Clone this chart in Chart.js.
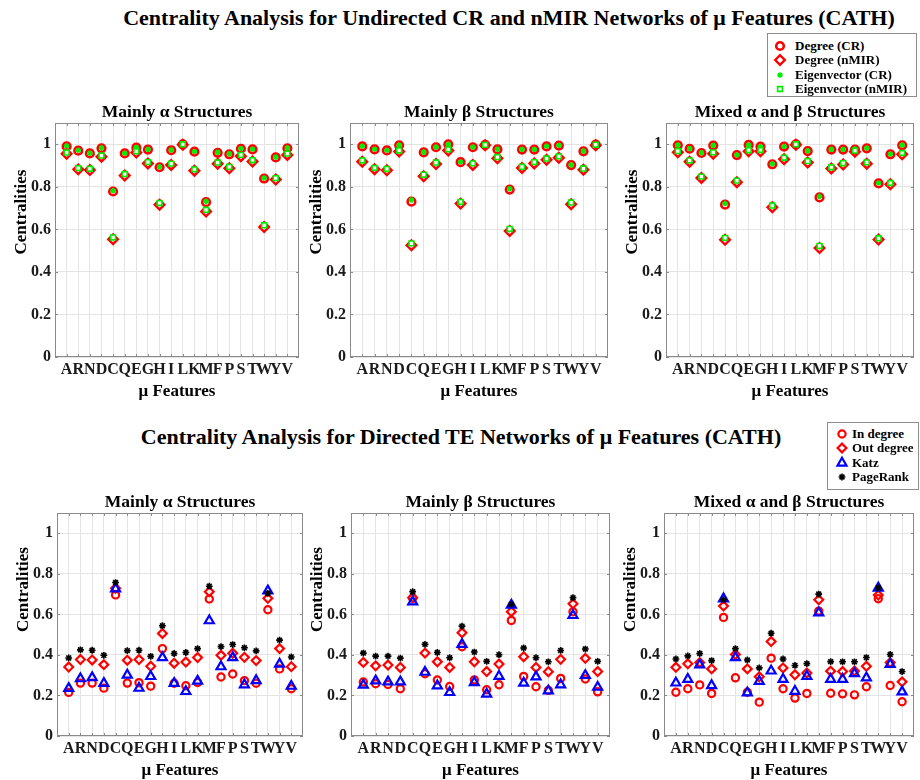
<!DOCTYPE html>
<html>
<head>
<meta charset="utf-8">
<title>Centrality Analysis (CATH)</title>
<script src="https://cdn.jsdelivr.net/npm/chart.js@4.4.1/dist/chart.umd.min.js"></script>
<style>
  html, body { margin: 0; padding: 0; background: #fff; }
  body { position: relative; width: 920px; height: 780px; overflow: hidden;
         font-family: "Liberation Serif", "Times New Roman", serif; color: #000; }
  canvas { position: absolute; }
  .fig-title { position: absolute; font-size: 22px; font-weight: bold; white-space: nowrap;
               line-height: 24px; transform: translateX(-50%); }
  .legend { position: absolute; border: 1px solid #8c8c8c; background: #fff; box-sizing: border-box;
            font-size: 13px; font-weight: bold; }
  .legend div { position: absolute; white-space: nowrap; line-height: 14px; }
</style>
</head>
<body>
<div class="fig-title" style="left:509px; top:6px;">Centrality Analysis for Undirected CR and nMIR Networks of μ Features (CATH)</div>
<div class="fig-title" style="left:461px; top:425px;">Centrality Analysis for Directed TE Networks of μ Features (CATH)</div>
<div class="legend" id="legend-top" style="left:767px; top:33px; width:150px; height:64px;"></div>
<div class="legend" id="legend-bottom" style="left:827px; top:422px; width:92px; height:68px;"></div>

<script>
// categories and ticks
const features = ['A','R','N','D','C','Q','E','G','H','I','L','K','M','F','P','S','T','W','Y','V'];
const yTickValues = [0, 0.2, 0.4, 0.6, 0.8, 1];
const panelTitles = ['Mainly α Structures', 'Mainly β Structures', 'Mixed α and β Structures'];
const undirectedNames = ['Degree (CR)', 'Degree (nMIR)', 'Eigenvector (CR)', 'Eigenvector (nMIR)'];
const directedNames = ['In degree', 'Out degree', 'Katz', 'PageRank'];

// undirected CR / nMIR networks
const alphaDegCR    = [0.990,0.970,0.957,0.981,0.778,0.957,0.984,0.975,0.892,0.972,1.000,0.965,0.728,0.960,0.953,0.979,0.976,0.839,0.938,0.981];
const alphaDegNMIR  = [0.955,0.882,0.879,0.941,0.553,0.853,0.961,0.910,0.716,0.903,0.998,0.876,0.684,0.908,0.887,0.944,0.919,0.611,0.834,0.950];
const alphaEigCR    = [0.992,0.972,0.958,0.983,0.782,0.958,0.986,0.976,0.894,0.973,1.000,0.966,0.732,0.962,0.955,0.980,0.977,0.842,0.940,0.983];
const alphaEigNMIR  = [0.961,0.888,0.885,0.947,0.562,0.860,0.967,0.916,0.724,0.909,1.000,0.882,0.692,0.914,0.894,0.950,0.925,0.619,0.841,0.956];

const betaDegCR     = [0.990,0.976,0.971,0.995,0.730,0.962,0.986,1.000,0.916,0.986,0.997,0.976,0.787,0.975,0.975,0.990,0.994,0.902,0.967,0.998];
const betaDegNMIR   = [0.918,0.883,0.878,0.966,0.525,0.850,0.907,0.971,0.721,0.903,0.995,0.934,0.592,0.889,0.910,0.927,0.937,0.718,0.880,0.995];
const betaEigCR     = [0.991,0.977,0.972,0.996,0.738,0.963,0.987,1.000,0.917,0.987,0.998,0.977,0.791,0.976,0.976,0.991,0.995,0.903,0.968,0.999];
const betaEigNMIR   = [0.924,0.889,0.884,0.971,0.534,0.857,0.914,0.976,0.729,0.910,0.997,0.940,0.602,0.894,0.916,0.933,0.943,0.726,0.886,0.998];

const mixedDegCR    = [0.995,0.979,0.959,0.994,0.716,0.949,0.997,0.989,0.906,0.989,1.000,0.968,0.750,0.975,0.975,0.975,0.981,0.816,0.953,0.995];
const mixedDegNMIR  = [0.962,0.918,0.842,0.956,0.551,0.822,0.967,0.967,0.704,0.930,0.998,0.914,0.512,0.886,0.905,0.965,0.909,0.552,0.812,0.953];
const mixedEigCR    = [0.996,0.980,0.960,0.995,0.722,0.950,0.997,0.990,0.908,0.990,1.000,0.969,0.755,0.976,0.976,0.978,0.982,0.818,0.954,0.996];
const mixedEigNMIR  = [0.968,0.924,0.848,0.962,0.560,0.829,0.972,0.973,0.712,0.937,1.000,0.921,0.522,0.892,0.911,0.970,0.915,0.558,0.818,0.959];

// directed TE networks
const alphaIn       = [0.215,0.261,0.261,0.236,0.696,0.261,0.263,0.246,0.431,0.260,0.248,0.264,0.676,0.291,0.306,0.273,0.260,0.623,0.331,0.233];
const alphaOut      = [0.340,0.377,0.375,0.352,0.729,0.374,0.377,0.344,0.506,0.359,0.365,0.387,0.712,0.398,0.408,0.388,0.372,0.679,0.431,0.342];
const alphaKatz     = [0.235,0.283,0.288,0.260,0.726,0.301,0.236,0.294,0.387,0.260,0.220,0.271,0.569,0.342,0.387,0.253,0.274,0.716,0.355,0.246];
const alphaPageRank = [0.385,0.425,0.423,0.398,0.757,0.421,0.423,0.393,0.544,0.407,0.412,0.431,0.739,0.441,0.451,0.435,0.420,0.704,0.473,0.390];

const betaIn        = [0.266,0.258,0.254,0.233,0.680,0.307,0.276,0.244,0.440,0.277,0.228,0.253,0.570,0.294,0.243,0.225,0.284,0.613,0.281,0.218];
const betaOut       = [0.363,0.346,0.350,0.338,0.682,0.409,0.366,0.338,0.509,0.366,0.318,0.355,0.613,0.391,0.338,0.317,0.378,0.652,0.383,0.318];
const betaKatz      = [0.251,0.272,0.267,0.267,0.662,0.315,0.248,0.215,0.452,0.264,0.207,0.295,0.646,0.261,0.292,0.223,0.253,0.595,0.299,0.241];
const betaPageRank  = [0.409,0.394,0.394,0.384,0.712,0.452,0.412,0.386,0.542,0.414,0.368,0.401,0.649,0.434,0.386,0.366,0.422,0.682,0.429,0.368];

const mixedIn       = [0.216,0.233,0.252,0.210,0.585,0.287,0.216,0.167,0.384,0.233,0.187,0.210,0.616,0.211,0.208,0.203,0.243,0.677,0.249,0.169];
const mixedOut      = [0.339,0.356,0.362,0.331,0.641,0.402,0.331,0.292,0.466,0.336,0.302,0.311,0.672,0.320,0.318,0.321,0.344,0.695,0.362,0.267];
const mixedKatz     = [0.262,0.280,0.351,0.249,0.677,0.387,0.213,0.270,0.321,0.280,0.221,0.295,0.608,0.280,0.280,0.308,0.287,0.730,0.354,0.218];
const mixedPageRank = [0.380,0.395,0.407,0.372,0.672,0.431,0.375,0.336,0.507,0.380,0.348,0.357,0.700,0.367,0.366,0.366,0.387,0.731,0.402,0.318];

// marker styles (order: lower = drawn on top)
const RED = '#ff0000', GREEN = '#00ee00', BLUE = '#0000ff', BLACK = '#000000';
const NONE = 'rgba(0,0,0,0)';
const undirectedStyles = [
    { pointStyle: 'circle',  radius: 3.8, borderWidth: 2.6, color: RED,   fill: NONE,   order: 4 },
    { pointStyle: 'rectRot', radius: 4.8, borderWidth: 2.4, color: RED,   fill: NONE,   order: 3 },
    { pointStyle: 'star',    radius: 2.6, borderWidth: 2.6, color: GREEN, fill: GREEN,  order: 2 },
    { pointStyle: 'rect',    radius: 3.4, borderWidth: 1.6, color: GREEN, fill: '#fff', order: 1 }
];
const directedStyles = [
    { pointStyle: 'circle',   radius: 3.6, borderWidth: 2.2, color: RED,   fill: NONE,  order: 4 },
    { pointStyle: 'rectRot',  radius: 4.4, borderWidth: 2.2, color: RED,   fill: NONE,  order: 3 },
    { pointStyle: 'triangle', radius: 5.2, borderWidth: 2.2, color: BLUE,  fill: NONE,  order: 2 },
    { pointStyle: 'star',     radius: 3.4, borderWidth: 1.6, color: BLACK, fill: BLACK, order: 1 }
];

// plot-area boxes (left, top, right, bottom) in page pixels
const panelBoxes = [
    { l: 55,  t: 123, r: 299, b: 357 }, { l: 350, t: 123, r: 608, b: 357 }, { l: 666, t: 123, r: 914, b: 357 },
    { l: 57,  t: 513, r: 303, b: 736 }, { l: 351, t: 513, r: 610, b: 736 }, { l: 664, t: 513, r: 914, b: 736 }
];

Chart.defaults.font.family = '"Liberation Serif", "Times New Roman", serif';
Chart.defaults.font.weight = 'bold';
Chart.defaults.color = '#000';

// MATLAB-like box, inward ticks, panel title and y label
const axesBox = {
    id: 'axesBox',
    beforeDatasetsDraw(chart, args, opts) {
        const { ctx, chartArea: a, scales: { x, y } } = chart;
        ctx.save();
        ctx.strokeStyle = '#8a8a8a';
        ctx.lineWidth = 1;
        ctx.strokeRect(Math.round(a.left) + 0.5, Math.round(a.top) + 0.5, Math.round(a.width) - 1, Math.round(a.height) - 1);
        ctx.beginPath();
        x.ticks.forEach(t => {
            const px = Math.round(x.getPixelForValue(t.value)) + 0.5;
            ctx.moveTo(px, a.bottom); ctx.lineTo(px, a.bottom - 3);
            ctx.moveTo(px, a.top); ctx.lineTo(px, a.top + 3);
        });
        y.ticks.forEach(t => {
            const py = Math.round(y.getPixelForValue(t.value)) + 0.5;
            ctx.moveTo(a.left, py); ctx.lineTo(a.left + 3, py);
            ctx.moveTo(a.right, py); ctx.lineTo(a.right - 3, py);
        });
        ctx.stroke();

        ctx.fillStyle = '#000';
        ctx.textAlign = 'center';
        ctx.textBaseline = 'middle';
        ctx.font = 'bold 17.5px "Liberation Serif", serif';
        ctx.fillText(opts.title, (a.left + a.right) / 2, a.top - 11);

        ctx.font = 'bold 17px "Liberation Serif", serif';
        ctx.translate(a.left - opts.offsetX, (a.top + a.bottom) / 2 - opts.shift);
        ctx.rotate(-Math.PI / 2);
        ctx.fillText(opts.text, 0, 0);
        ctx.restore();
    }
};

function makePanel(box, title, names, seriesList, styles, yShift) {
    const LEFT = 55, TOP = 30, BOTTOM = 50, RIGHT = 8;
    const w = box.r - box.l + LEFT + RIGHT;
    const h = box.b - box.t + TOP + BOTTOM;
    const canvas = document.createElement('canvas');
    canvas.width = w;
    canvas.height = h;
    canvas.style.left = (box.l - LEFT) + 'px';
    canvas.style.top = (box.t - TOP) + 'px';
    document.body.appendChild(canvas);

    const datasets = seriesList.map((values, i) => ({
        label: names[i],
        data: values.map((v, k) => ({ x: k + 1, y: v })),
        showLine: false,
        pointStyle: styles[i].pointStyle,
        pointRadius: styles[i].radius,
        pointBorderWidth: styles[i].borderWidth,
        pointBorderColor: styles[i].color,
        pointBackgroundColor: styles[i].fill,
        borderColor: styles[i].color,
        order: styles[i].order
    }));

    new Chart(canvas, {
        type: 'scatter',
        data: { datasets },
        plugins: [axesBox],
        options: {
            responsive: false,
            animation: false,
            events: [],
            layout: { padding: { left: 0, right: RIGHT, top: TOP, bottom: 0 } },
            plugins: {
                legend: { display: false },
                tooltip: { enabled: false },
                axesBox: { title: title, text: 'Centralities', offsetX: 33, shift: yShift }
            },
            scales: {
                x: {
                    type: 'linear', min: 0, max: 21,
                    afterBuildTicks: s => { s.ticks = features.map((f, i) => ({ value: i + 1 })); },
                    afterFit: s => { s.height = BOTTOM; },
                    ticks: {
                        callback: v => features[v - 1],
                        autoSkip: false, maxRotation: 0, minRotation: 0, padding: 3,
                        color: '#1a1a1a', font: { size: 16, weight: 'bold' }
                    },
                    grid: { color: '#e4e4e4', drawTicks: false },
                    border: { display: false },
                    title: {
                        display: true, text: 'μ Features', color: '#000',
                        font: { size: 17, weight: 'bold' }, padding: { top: 0, bottom: 5 }
                    }
                },
                y: {
                    type: 'linear', min: 0, max: 1.1,
                    afterBuildTicks: s => { s.ticks = yTickValues.map(v => ({ value: v })); },
                    afterFit: s => { s.width = LEFT; },
                    ticks: {
                        callback: v => String(v), padding: 4,
                        color: '#1a1a1a', font: { size: 16, weight: 'bold' }
                    },
                    grid: { color: '#e4e4e4', drawTicks: false },
                    border: { display: false }
                }
            }
        }
    });
}

const undirectedSeries = [
    [alphaDegCR, alphaDegNMIR, alphaEigCR, alphaEigNMIR],
    [betaDegCR, betaDegNMIR, betaEigCR, betaEigNMIR],
    [mixedDegCR, mixedDegNMIR, mixedEigCR, mixedEigNMIR]
];
const directedSeries = [
    [alphaIn, alphaOut, alphaKatz, alphaPageRank],
    [betaIn, betaOut, betaKatz, betaPageRank],
    [mixedIn, mixedOut, mixedKatz, mixedPageRank]
];

undirectedSeries.forEach((s, i) => makePanel(panelBoxes[i], panelTitles[i], undirectedNames, s, undirectedStyles, 28));
directedSeries.forEach((s, i) => makePanel(panelBoxes[i + 3], panelTitles[i], directedNames, s, directedStyles, 35));

// legend boxes (html text, markers drawn with Chart.js point helper)
function buildLegend(el, names, styles, markerX, textX, firstRow, rowGap) {
    names.forEach((name, i) => {
        const rowY = firstRow + i * rowGap;
        const mk = document.createElement('canvas');
        mk.width = 16; mk.height = 16;
        mk.style.left = (markerX - 8) + 'px';
        mk.style.top = (rowY - 8) + 'px';
        el.appendChild(mk);
        const ctx = mk.getContext('2d');
        const s = styles[i];
        ctx.strokeStyle = s.color;
        ctx.fillStyle = s.fill;
        ctx.lineWidth = s.borderWidth;
        Chart.helpers.drawPoint(ctx, { pointStyle: s.pointStyle, radius: s.radius, borderWidth: s.borderWidth, rotation: 0 }, 8, 8);

        const label = document.createElement('div');
        label.textContent = name;
        label.style.left = textX + 'px';
        label.style.top = (rowY - 7) + 'px';
        el.appendChild(label);
    });
}
buildLegend(document.getElementById('legend-top'), undirectedNames, undirectedStyles, 12, 27, 11.5, 14.5);
buildLegend(document.getElementById('legend-bottom'), directedNames, directedStyles, 14, 24, 10.5, 14.5);
</script>
</body>
</html>
